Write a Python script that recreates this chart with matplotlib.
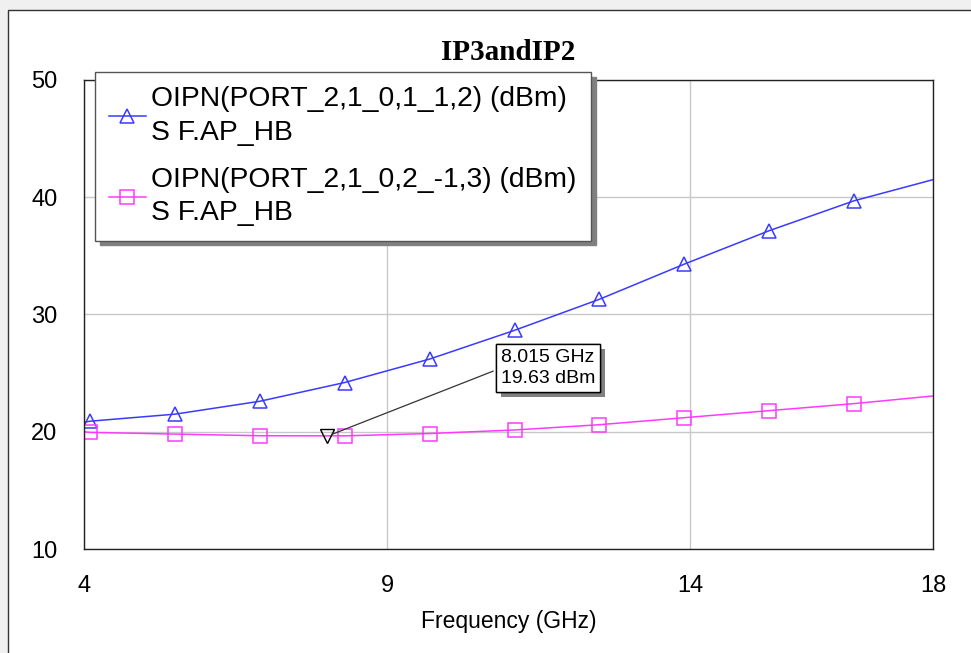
import matplotlib
matplotlib.use('Agg')
from matplotlib import pyplot as plt, rcParams
from matplotlib import patheffects
from matplotlib.patches import Rectangle

rcParams['font.family'] = ['Liberation Sans', 'DejaVu Sans']

# 数据
freq = [4.0, 4.1, 5.5, 6.9, 8.3, 9.7, 11.1, 12.5, 13.9, 15.3, 16.7, 18.0]
ip3 = [20.8, 20.9, 21.5, 22.6, 24.2, 26.2, 28.65, 31.3, 34.3, 37.15, 39.7, 41.5]
ip2 = [20.0, 19.95, 19.8, 19.66, 19.65, 19.85, 20.15, 20.6, 21.2, 21.8, 22.4, 23.05]
label_ip3 = 'OIPN(PORT_2,1_0,1_1,2) (dBm)\nS F.AP_HB'
label_ip2 = 'OIPN(PORT_2,1_0,2_-1,3) (dBm)\nS F.AP_HB'
mark_x, mark_y = 8.015, 19.63
xticks = [4, 9, 14, 18]
yticks = [10, 20, 30, 40, 50]

W, H = 971, 653
fig = plt.figure(figsize=(W / 100, H / 100), dpi=100, facecolor='#f0f0f0')
# 窗口白色背景
fig.patches.append(Rectangle((8 / W, -0.1), 1.1, (H - 10) / H + 0.1, transform=fig.transFigure,
                             facecolor='white', edgecolor='#333333', lw=1, zorder=-5))

ax = fig.add_axes([84 / W, 1 - 549 / H, (933 - 84) / W, (549 - 80) / H])
ax.set_facecolor('white')

ax.plot(freq, ip3, color='#3a3aff', lw=1.1, marker='^', markersize=10, markerfacecolor='none',
        markeredgecolor='#3a3aff', markeredgewidth=1.1, markevery=list(range(1, 11)), label=label_ip3)
ax.plot(freq, ip2, color='#ff3aff', lw=1.1, marker='s', markersize=10, markerfacecolor='none',
        markeredgecolor='#ff3aff', markeredgewidth=1.1, markevery=list(range(1, 11)), label=label_ip2)

# marker 标注
ax.plot([mark_x], [mark_y], marker='v', markersize=10, markerfacecolor='none',
        markeredgecolor='black', markeredgewidth=1, linestyle='none')
ann = ax.annotate('{} GHz\n{} dBm'.format(mark_x, mark_y), xy=(mark_x, mark_y), xytext=(10.88, 25.44),
                  textcoords='data', ha='left', va='center', fontsize=14, linespacing=1.3,
                  bbox=dict(boxstyle='square,pad=0.25', facecolor='white', edgecolor='black', lw=1),
                  arrowprops=dict(arrowstyle='-', color='#333333', lw=0.9, relpos=(0, 0.5), shrinkB=4))
ann.get_bbox_patch().set_path_effects([patheffects.withSimplePatchShadow(offset=(3.5, -3.5),
                                       shadow_rgbFace='#808080', alpha=1.0), patheffects.Normal()])

ax.set_xlim(4, 18)
ax.set_ylim(10, 50)
ax.set_xticks(xticks)
ax.set_yticks(yticks)
ax.tick_params(length=0, labelsize=17)
ax.tick_params(axis='x', pad=19)
ax.tick_params(axis='y', pad=19)
ax.grid(True, color='#c8c8c8', lw=1)
ax.set_axisbelow(True)
for s in ax.spines.values():
    s.set_color('#222222')
    s.set_linewidth(1)
ax.set_xlabel('Frequency (GHz)', fontsize=16.5, labelpad=9)

fig.text((84 + 933) / 2 / W, 1 - 52 / H, 'IP3andIP2', ha='center', va='center',
         fontsize=21, fontweight='bold', family='Liberation Serif')

leg = ax.legend(loc='upper left', bbox_to_anchor=(95 / W, 1 - 72 / H), bbox_transform=fig.transFigure,
                borderaxespad=0, fontsize=20.3, frameon=True, fancybox=False, framealpha=1,
                edgecolor='#555555', borderpad=0.5, handlelength=1.3, handletextpad=0.2,
                labelspacing=0.75, shadow={'ox': 3.5, 'oy': -3.5, 'color': '#808080', 'alpha': 1})
leg.get_frame().set_linewidth(1)
for t in leg.get_texts():
    t.set_linespacing(1.38)

plt.savefig('out.png', dpi=100, facecolor=fig.get_facecolor())
